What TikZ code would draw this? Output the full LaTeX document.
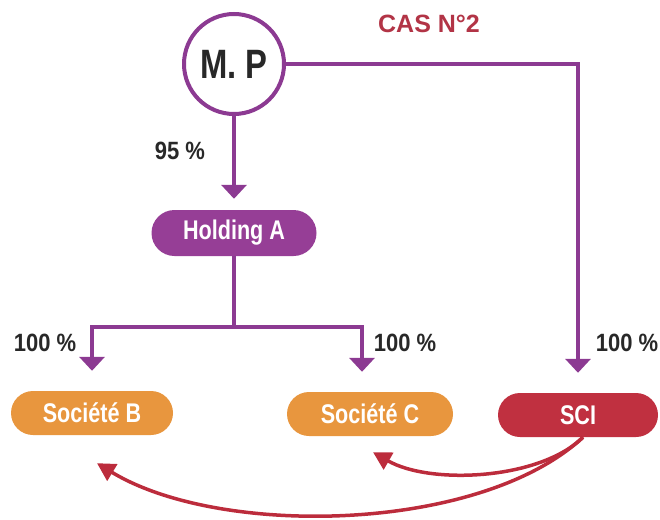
\documentclass[tikz,border=0pt]{standalone}
\usepackage{fontspec}
\setmainfont{Liberation Sans}
\newfontfamily\condf{Liberation Sans}[FakeStretch=0.8]
\newfontfamily\condl{Liberation Sans}[FakeStretch=0.88]
\usetikzlibrary{arrows.meta}
\definecolor{mpurple}{RGB}{140,58,146}
\definecolor{hpurple}{RGB}{150,62,150}
\definecolor{morange}{RGB}{232,150,62}
\definecolor{mred}{RGB}{192,48,64}
\definecolor{ared}{RGB}{188,44,60}
\definecolor{casred}{RGB}{178,52,70}
\definecolor{dtext}{RGB}{40,40,40}
\tikzset{
  pill/.style={rectangle, rounded corners=22pt, minimum height=44pt, minimum width=162pt, inner sep=0pt,
    text=white, font=\condf\bfseries\fontsize{27}{27}\selectfont},
  pline/.style={draw=mpurple, line width=4pt},
  parr/.style={pline, -{Triangle[width=25pt,length=14pt]}},
  rarr/.style={draw=ared, line width=3.5pt, -{Triangle[width=19pt,length=18pt]}},
  pct/.style={text=dtext, font=\condl\bfseries\fontsize{25}{25}\selectfont, inner sep=0pt}
}
\begin{document}
\begin{tikzpicture}[x=1pt,y=-1pt]
\useasboundingbox (0,0) rectangle (660,519);
\node[circle, draw=mpurple, line width=4pt, fill=white, minimum size=100pt, inner sep=0pt,
  text=dtext, font=\condf\bfseries\fontsize{41}{41}\selectfont] (mp) at (234,64) {M. P};
\node[text=casred, font=\bfseries\fontsize{25}{25}\selectfont, inner sep=0pt] (cas) at (429,24) {CAS N°2};
\node[pill, fill=hpurple, minimum width=165pt, minimum height=46pt, rounded corners=23pt] (hold) at (234,233) {Holding A};
\node[pill, fill=morange] (sb) at (92,413) {Société B};
\node[pill, fill=morange, minimum width=166pt] (sc) at (370,414) {Société C};
\node[pill, fill=mred, minimum width=160pt] (sci) at (578,415) {SCI};
\node[pct] (p95) at (180,151) {95 \%};
\node[pct] (pb) at (45,343) {100 \%};
\node[pct] (pc) at (405,343) {100 \%};
\node[pct] (psci) at (627,343) {100 \%};
% connectors
\draw[parr] (mp.south) -- ([yshift=11pt]hold.north);
\draw[parr] (mp.east) -| ([yshift=20pt]sci.north);
\draw[pline] (hold.south) -- ++(0,71) coordinate (j);
\draw[parr] (j) -| ([yshift=20pt]sb.north);
\draw[parr] (j) -| ([xshift=-8pt,yshift=20pt]sc.north);
\coordinate (s0) at ([xshift=5pt]sci.south);
\coordinate (tc) at ([xshift=3pt,yshift=-16pt]sc.south);
\coordinate (tb) at ([xshift=5pt,yshift=-28pt]sb.south);
\draw[rarr] (s0) .. controls (540,480) and (430,485) .. (tc);
\draw[rarr] (s0) .. controls (480,533) and (220,538) .. (tb);
\end{tikzpicture}
\end{document}
